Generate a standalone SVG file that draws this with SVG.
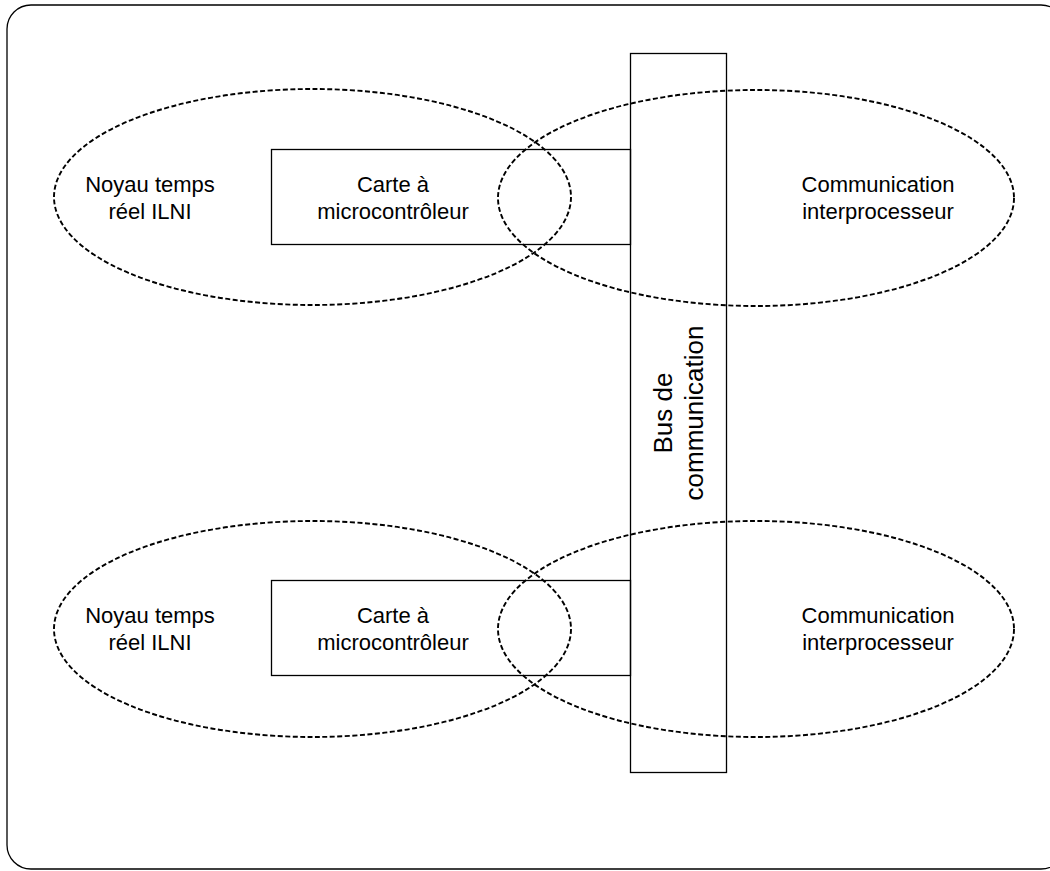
<svg xmlns="http://www.w3.org/2000/svg" width="1050" height="871" viewBox="0 0 1050 871">
<style>
.frame{fill:none;stroke:#000;stroke-width:1.3}
.box{fill:none;stroke:#000;stroke-width:1.3}
.ell{fill:none;stroke:#000;stroke-width:1.9;stroke-dasharray:5 2.5}
.t{font-family:"Liberation Sans",Arial,sans-serif;font-size:22px;fill:#000;text-anchor:middle}
.tb{font-size:26px}
</style>
<rect x="0" y="0" width="1050" height="871" fill="#fff"/>
<rect class="frame" x="7" y="5" width="1058" height="864" rx="24" ry="24"/>
<g id="bus">
<rect class="box" x="630.5" y="53.5" width="96" height="719"/>
<text class="t tb" transform="translate(672,413) rotate(-90)"><tspan x="0" y="0">Bus de</tspan><tspan x="0" y="31">communication</tspan></text>
</g>
<g id="carte1">
<rect class="box" x="271.5" y="149.5" width="359" height="95"/>
<text class="t" x="393" y="192">Carte à</text>
<text class="t" x="393" y="219">microcontrôleur</text>
</g>
<g id="carte2">
<rect class="box" x="271.5" y="580.5" width="359" height="95"/>
<text class="t" x="393" y="623">Carte à</text>
<text class="t" x="393" y="650">microcontrôleur</text>
</g>
<g id="noyau1">
<ellipse class="ell" cx="312.5" cy="197" rx="258.5" ry="108"/>
<text class="t" x="150" y="192">Noyau temps</text>
<text class="t" x="150" y="219">réel ILNI</text>
</g>
<g id="comm1">
<ellipse class="ell" cx="756" cy="198" rx="258" ry="108"/>
<text class="t" x="878" y="192">Communication</text>
<text class="t" x="878" y="219">interprocesseur</text>
</g>
<g id="noyau2">
<ellipse class="ell" cx="312.5" cy="629" rx="258.5" ry="108"/>
<text class="t" x="150" y="623">Noyau temps</text>
<text class="t" x="150" y="650">réel ILNI</text>
</g>
<g id="comm2">
<ellipse class="ell" cx="756" cy="629" rx="258" ry="108"/>
<text class="t" x="878" y="623">Communication</text>
<text class="t" x="878" y="650">interprocesseur</text>
</g>
<g id="connectors"></g>
</svg>
